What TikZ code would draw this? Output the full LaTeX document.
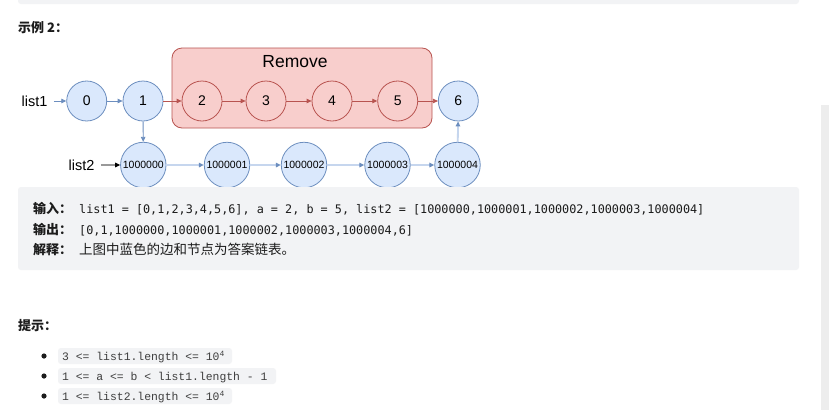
\documentclass[tikz,border=0pt]{standalone}
\usepackage{fontspec}
\setmainfont{Liberation Sans}
\newfontfamily\cjk{Noto Sans CJK SC}
\newfontfamily\codefont{DejaVu Sans Mono}
\newfontfamily\hintfont{Liberation Mono}
\usetikzlibrary{arrows.meta}
\definecolor{bluefill}{HTML}{DAE8FC}
\definecolor{bluedraw}{HTML}{6C8EBF}
\definecolor{bluelight}{HTML}{C6D6EE}
\definecolor{redfill}{HTML}{F8CECC}
\definecolor{reddraw}{HTML}{B85450}
\definecolor{panel}{HTML}{F2F3F5}
\definecolor{bar}{HTML}{EDEDED}
\definecolor{ink}{HTML}{1C1C1C}
\tikzset{
  x=1pt, y=-1pt,
  bnode/.style={circle, draw=bluedraw, fill=bluefill, line width=0.8pt,
    minimum size=40pt, inner sep=0pt, font=\fontsize{14}{14}\selectfont},
  rnode/.style={circle, draw=reddraw, fill=redfill, line width=0.8pt,
    minimum size=40pt, inner sep=0pt, font=\fontsize{14}{14}\selectfont},
  wnode/.style={circle, draw=bluedraw, fill=bluefill, line width=0.8pt,
    minimum size=45.5pt, inner sep=0pt, font=\fontsize{10.5}{10.5}\selectfont},
  barrow/.style={draw=bluedraw, line width=0.8pt,
    -{Triangle[length=5pt,width=4.5pt]}},
  rarrow/.style={draw=reddraw, line width=0.8pt,
    -{Triangle[length=5pt,width=4.5pt]}},
  larrow/.style={draw=bluelight, line width=1.8pt,
    -{Triangle[length=5pt,width=4.5pt,color=bluedraw]}},
  gl/.style={anchor=base west, inner sep=0pt, text=ink},
  cjklabel/.style={gl, font=\cjk\bfseries\fontsize{13}{13}\selectfont},
  code/.style={gl, font=\codefont\fontsize{11.8}{11.8}\selectfont},
  hint/.style={gl, font=\hintfont\fontsize{11.4}{11.4}\selectfont, text=ink!85},
  chip/.style={fill=panel, rounded corners=3pt},
}
\begin{document}
\begin{tikzpicture}
\useasboundingbox (0,0) rectangle (829,410);
\fill[white] (0,0) rectangle (829,410);
% page furniture
\fill[panel, rounded corners=3pt] (18,-6) rectangle (799,4);
\fill[bar] (821,105) rectangle (829,410);
\node[cjklabel] (title) at (18,32) {示例 2：};

% removed segment
\draw[fill=redfill, draw=reddraw, line width=0.8pt, rounded corners=10pt]
  (172,48) rectangle (432,128);
\node[font=\fontsize{17.5}{17.5}\selectfont] (remove) at (295,62) {Remove};

% list1
\node[font=\fontsize{14.5}{14.5}\selectfont] (l1) at (34.5,101) {list1};
\node[bnode] (n0) at (86.7,101) {0};
\node[bnode] (n1) at (143,101) {1};
\node[rnode] (n2) at (202,101) {2};
\node[rnode] (n3) at (266,101) {3};
\node[rnode] (n4) at (332,101) {4};
\node[rnode] (n5) at (397.7,101) {5};
\node[bnode] (n6) at (458.3,101) {6};

% list2
\node[font=\fontsize{14.5}{14.5}\selectfont] (l2) at (81.5,165) {list2};
\node[wnode] (m0) at (143.3,165) {1000000};
\node[wnode] (m1) at (227,165) {1000001};
\node[wnode] (m2) at (304,165) {1000002};
\node[wnode] (m3) at (387.5,165) {1000003};
\node[wnode] (m4) at (457.5,165) {1000004};

% links
\draw[barrow] (l1.east) ++(3,0) -- (n0);
\draw[barrow] (n0) -- (n1);
\draw[rarrow] (n1) -- (n2);
\draw[rarrow] (n2) -- (n3);
\draw[rarrow] (n3) -- (n4);
\draw[rarrow] (n4) -- (n5);
\draw[rarrow] (n5) -- (n6);
\draw[barrow] (n1) -- (m0);
\draw[draw=gray!80, line width=1.2pt, -{Triangle[length=5pt,width=4.5pt,color=black]}]
  (l2.east) ++(3,0) -- (m0);
\draw[larrow] (m0) -- (m1);
\draw[larrow] (m1) -- (m2);
\draw[larrow] (m2) -- (m3);
\draw[larrow] (m3) -- (m4);
\draw[larrow] (m4) -- (n6);

% example text panel
\fill[panel, rounded corners=3pt] (18,187) rectangle (799,270);
\node[cjklabel] (inlab) at (33,213) {输入：};
\node[code] (intext) at (79,213) {list1 = [0,1,2,3,4,5,6], a = 2, b = 5, list2 = [1000000,1000001,1000002,1000003,1000004]};
\node[cjklabel] (outlab) at (33,234) {输出：};
\node[code] (outtext) at (79,234) {[0,1,1000000,1000001,1000002,1000003,1000004,6]};
\node[cjklabel] (exlab) at (33,254) {解释：};
\node[gl, font=\cjk\fontsize{13.5}{13.5}\selectfont] (extext) at (79,254) {上图中蓝色的边和节点为答案链表。};

% hints
\node[cjklabel] (hints) at (18,330) {提示：};
\fill[chip] (58,348) rectangle (232,364);
\fill[chip] (58,368) rectangle (276,384);
\fill[chip] (58,388) rectangle (232,404);
\fill[ink] (44,356) circle (2.6);
\fill[ink] (44,376) circle (2.6);
\fill[ink] (44,396) circle (2.6);
\node[hint] (h1) at (62,360) {3 <= list1.length <= 10\raisebox{4pt}{\fontsize{8}{8}\selectfont 4}};
\node[hint] (h2) at (62,380) {1 <= a <= b < list1.length - 1};
\node[hint] (h3) at (62,400) {1 <= list2.length <= 10\raisebox{4pt}{\fontsize{8}{8}\selectfont 4}};
\end{tikzpicture}
\end{document}
